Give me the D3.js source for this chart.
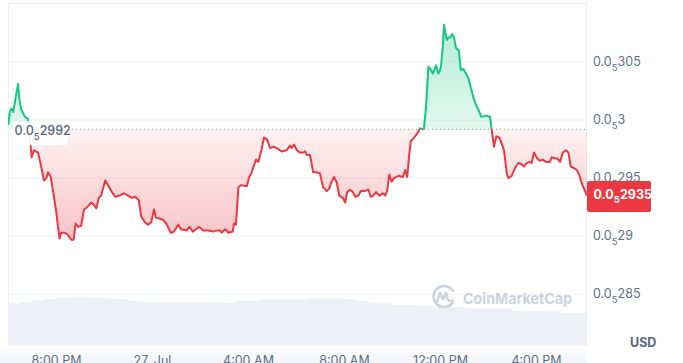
<!DOCTYPE html>
<html>
<head>
<meta charset="utf-8">
<script src="https://cdn.jsdelivr.net/npm/d3@7"></script>
<style>
  body { margin: 0; background: #fff; }
  svg { display: block; font-family: Inter, "Noto Sans", sans-serif; }
</style>
</head>
<body>
<div id="chart"></div>
<script>
// minutes after 26 Jul 18:00
var priceMinutes = [1, 4, 8, 13, 17, 21, 25, 29, 33, 38, 42, 46, 50, 55, 59, 65, 75, 83, 90, 96, 100, 107, 113, 121, 125, 129, 133, 142, 150, 158, 164, 169, 175, 183, 190, 198, 208, 215, 221, 227, 233, 243, 250, 260, 268, 279, 290, 300, 310, 318, 327, 333, 342, 350, 358, 365, 370, 380, 388, 397, 407, 415, 426, 432, 447, 453, 462, 470, 478, 488, 501, 513, 522, 530, 534, 543, 551, 562, 565, 570, 576, 582, 597, 603, 609, 620, 626, 632, 640, 648, 655, 665, 676, 684, 697, 705, 709, 715, 722, 730, 738, 743, 747, 755, 763, 772, 780, 788, 797, 803, 809, 815, 822, 828, 837, 843, 848, 855, 862, 868, 876, 882, 893, 901, 907, 913, 920, 928, 937, 943, 948, 953, 959, 965, 976, 987, 993, 998, 1003, 1007, 1013, 1020, 1026, 1030, 1037, 1040, 1045, 1051, 1058, 1062, 1070, 1076, 1082, 1087, 1090, 1097, 1101, 1105, 1111, 1115, 1120, 1127, 1132, 1138, 1145, 1151, 1157, 1163, 1170, 1176, 1183, 1188, 1195, 1201, 1205, 1209, 1215, 1221, 1228, 1234, 1240, 1247, 1251, 1259, 1268, 1276, 1284, 1290, 1297, 1305, 1309, 1315, 1323, 1330, 1337, 1345, 1355, 1359, 1368, 1373, 1380, 1387, 1395, 1401, 1407, 1413, 1422, 1428, 1434, 1440, 1445, 1447];

// price in units of 1e-8 USD (299.2 = 0.0₅2992)
var prices = [299.6, 300.6, 301.0, 300.7, 301.5, 302.3, 303.1, 301.7, 300.9, 300.6, 300.3, 300.2, 300.1, 298.5, 296.8, 297.4, 297.2, 296.0, 294.8, 295.0, 295.5, 295.1, 293.8, 292.0, 290.8, 289.8, 290.3, 290.3, 290.1, 289.7, 289.7, 291.1, 290.8, 290.9, 292.3, 292.5, 292.9, 292.7, 292.4, 293.3, 293.5, 294.8, 294.4, 293.8, 293.4, 293.5, 293.7, 293.5, 293.3, 293.4, 293.1, 291.7, 291.2, 291.0, 291.2, 292.3, 291.6, 291.5, 291.4, 291.0, 290.3, 290.4, 291.0, 290.6, 290.5, 290.8, 290.4, 290.6, 290.8, 290.5, 290.5, 290.4, 290.5, 290.5, 290.3, 290.6, 290.3, 290.4, 291.1, 291.0, 294.2, 294.4, 294.3, 295.1, 295.5, 296.6, 296.4, 297.2, 298.5, 298.3, 297.6, 297.7, 297.5, 297.3, 297.4, 297.8, 297.6, 297.9, 297.4, 297.2, 297.2, 297.3, 297.0, 297.0, 295.5, 295.5, 295.4, 294.2, 293.9, 294.1, 294.7, 295.1, 294.6, 293.5, 293.3, 292.9, 293.8, 294.0, 293.8, 293.4, 293.5, 293.9, 293.9, 294.0, 293.4, 293.5, 293.8, 293.5, 293.7, 293.5, 293.9, 295.3, 294.7, 295.0, 295.2, 295.1, 295.7, 295.1, 297.0, 298.2, 298.4, 298.7, 299.0, 299.3, 299.2, 299.3, 301.1, 304.6, 304.3, 304.0, 304.7, 304.0, 304.5, 306.3, 308.2, 306.9, 307.1, 307.1, 307.4, 307.1, 306.2, 306.0, 304.3, 304.4, 304.0, 303.6, 302.8, 302.0, 301.3, 300.9, 300.3, 300.3, 300.4, 300.3, 300.3, 299.2, 297.7, 298.6, 298.5, 298.0, 297.4, 295.4, 295.0, 295.2, 295.9, 296.3, 296.2, 296.0, 296.3, 296.4, 296.3, 297.2, 296.7, 296.5, 296.6, 296.4, 296.4, 296.8, 296.7, 296.7, 296.4, 297.2, 297.4, 297.2, 296.0, 295.9, 295.7, 295.3, 294.6, 294.1, 293.7, 293.5];

// 30 minute volume buckets, relative units
var volumes = [42.2, 43.8, 45.5, 46.5, 47.5, 48.2, 48.2, 47.8, 47.0, 46.5, 44.8, 43.8, 43.2, 43.2, 43.2, 43.2, 43.2, 43.8, 43.0, 44.8, 44.8, 46.2, 46.2, 46.2, 46.2, 47.2, 47.2, 47.2, 46.5, 44.8, 43.0, 42.2, 40.5, 40.5, 39.5, 39.5, 38.8, 38.8, 37.2, 37.2, 37.2, 37.2, 34.8, 34.8, 34.8, 34.8, 32.8, 32.8, 32.8];

var priceTicks = [285, 290, 295, 300, 305];
var openPrice = 299.2;
var lastPrice = 293.5;

var width = 683, height = 363;
var plot = { left: 8, right: 587, top: 3, bottom: 345.7 };
var green = "#16c784", red = "#ea3943", axisGrey = "#616e85";

var start = new Date(2024, 6, 26, 18, 0);
function minToDate(m) {
  return new Date(start.getTime() + m * 60000);
}

var data = priceMinutes.map(function(m, i) {
  return { date: minToDate(m), value: prices[i] };
});

var x = d3.scaleTime()
  .domain([start, minToDate(1447.5)])
  .range([plot.left, plot.right]);

var y = d3.scaleLinear()
  .domain([285, 305])
  .range([294.3, 62]);

var yVol = d3.scaleLinear()
  .domain([0, 100])
  .range([plot.bottom, plot.bottom - 100]);

var svg = d3.select("#chart").append("svg")
  .attr("width", width)
  .attr("height", height);

var defs = svg.append("defs");

var baseY = y(openPrice);

defs.append("clipPath").attr("id", "clipUp")
  .append("rect")
  .attr("x", plot.left).attr("y", plot.top)
  .attr("width", plot.right - plot.left).attr("height", baseY - plot.top);

defs.append("clipPath").attr("id", "clipDown")
  .append("rect")
  .attr("x", plot.left).attr("y", baseY)
  .attr("width", plot.right - plot.left).attr("height", plot.bottom - baseY);

defs.append("clipPath").attr("id", "clipPlot")
  .append("rect")
  .attr("x", plot.left).attr("y", plot.top)
  .attr("width", plot.right - plot.left).attr("height", plot.bottom - plot.top);

var gUp = defs.append("linearGradient").attr("id", "gradUp")
  .attr("gradientUnits", "userSpaceOnUse")
  .attr("x1", 0).attr("x2", 0)
  .attr("y1", y(308.2)).attr("y2", baseY);
gUp.append("stop").attr("offset", 0).attr("stop-color", green).attr("stop-opacity", 0.32);
gUp.append("stop").attr("offset", 1).attr("stop-color", green).attr("stop-opacity", 0.12);

var gDown = defs.append("linearGradient").attr("id", "gradDown")
  .attr("gradientUnits", "userSpaceOnUse")
  .attr("x1", 0).attr("x2", 0)
  .attr("y1", baseY).attr("y2", y(289.7));
gDown.append("stop").attr("offset", 0).attr("stop-color", red).attr("stop-opacity", 0.07);
gDown.append("stop").attr("offset", 1).attr("stop-color", red).attr("stop-opacity", 0.3);

var gBottom = defs.append("linearGradient").attr("id", "gradBottom")
  .attr("x1", 0).attr("x2", 0).attr("y1", 0).attr("y2", 1);
gBottom.append("stop").attr("offset", 0).attr("stop-color", "#ffffff");
gBottom.append("stop").attr("offset", 1).attr("stop-color", "#f3f5fb");

svg.append("rect")
  .attr("x", 0).attr("y", plot.bottom)
  .attr("width", plot.right).attr("height", height - plot.bottom)
  .attr("fill", "url(#gradBottom)");

// grid
svg.append("g")
  .selectAll("line")
  .data(priceTicks)
  .enter().append("line")
  .attr("x1", plot.left).attr("x2", plot.right)
  .attr("y1", function(d) { return y(d); })
  .attr("y2", function(d) { return y(d); })
  .attr("stroke", "#eff2f5")
  .attr("stroke-width", 1);

// volume
svg.append("g")
  .attr("clip-path", "url(#clipPlot)")
  .selectAll("rect")
  .data(volumes)
  .enter().append("rect")
  .attr("x", function(d, i) { return x(minToDate(i * 30)); })
  .attr("width", function(d, i) { return x(minToDate((i + 1) * 30)) - x(minToDate(i * 30)) + 0.5; })
  .attr("y", function(d) { return yVol(d); })
  .attr("height", function(d) { return plot.bottom - yVol(d); })
  .attr("fill", "#edf0f4");

// borders
svg.append("path")
  .attr("d", "M" + (plot.left + 0.5) + "," + plot.bottom + "V" + (plot.top + 0.5) + "H" + (plot.right - 0.5) + "V" + plot.bottom)
  .attr("fill", "none")
  .attr("stroke", "#eceff3")
  .attr("stroke-width", 1);

// watermark
var wm = svg.append("g")
  .attr("transform", "translate(443.5,296.5)")
  .attr("fill", "none")
  .attr("stroke", "#cdd3de")
  .attr("stroke-width", 2.6)
  .attr("stroke-linecap", "round")
  .attr("stroke-linejoin", "round");
wm.append("path")
  .attr("d", "M9.5,5.5 A10.5,10.5 0 1 1 9.5,-5.5");
wm.append("path")
  .attr("d", "M-6.5,5 L-3.5,-3.5 L-0.5,3 L2.5,-3.5 L4,2.5 Q5.5,5.5 9,4");
svg.append("text")
  .attr("x", 463).attr("y", 303.5)
  .attr("fill", "#cdd3de")
  .attr("font-size", 15)
  .attr("font-weight", 700)
  .attr("textLength", 109)
  .attr("lengthAdjust", "spacingAndGlyphs")
  .text("CoinMarketCap");

// areas and line
var area = d3.area()
  .x(function(d) { return x(d.date); })
  .y0(baseY)
  .y1(function(d) { return y(d.value); });

var line = d3.line()
  .x(function(d) { return x(d.date); })
  .y(function(d) { return y(d.value); });

svg.append("path").datum(data)
  .attr("clip-path", "url(#clipUp)")
  .attr("d", area)
  .attr("fill", "url(#gradUp)");

// red area runs to the right edge
var redData = data.concat([{ date: minToDate(1447.5), value: lastPrice }]);
svg.append("path").datum(redData)
  .attr("clip-path", "url(#clipDown)")
  .attr("d", area)
  .attr("fill", "url(#gradDown)");

svg.append("line")
  .attr("x1", plot.left + 60).attr("x2", plot.right)
  .attr("y1", baseY).attr("y2", baseY)
  .attr("stroke", "#8f97a6")
  .attr("stroke-width", 1)
  .attr("stroke-dasharray", "1,3");

svg.append("path").datum(data)
  .attr("clip-path", "url(#clipUp)")
  .attr("d", line)
  .attr("fill", "none")
  .attr("stroke", green)
  .attr("stroke-width", 2)
  .attr("stroke-linejoin", "round");

svg.append("path").datum(data)
  .attr("clip-path", "url(#clipDown)")
  .attr("d", line)
  .attr("fill", "none")
  .attr("stroke", red)
  .attr("stroke-width", 2)
  .attr("stroke-linejoin", "round");

// 0.0₅ style label
function subText(sel, v, size, subSize) {
  var digits = String(Math.round(v * 10)).replace(/0+$/, "");
  sel.append("tspan").text("0.0");
  sel.append("tspan").attr("font-size", subSize).attr("dy", 4.5).text("5");
  sel.append("tspan").attr("font-size", size).attr("dy", -4.5).text(digits);
}

// open price tag
svg.append("rect")
  .attr("x", 13).attr("y", baseY - 8)
  .attr("width", 55).attr("height", 24)
  .attr("rx", 4)
  .attr("fill", "rgba(255,255,255,0.92)");
svg.append("text")
  .attr("x", 14.5).attr("y", baseY + 6)
  .attr("fill", "#58667e")
  .attr("font-size", 12.5)
  .attr("font-weight", 500)
  .call(subText, openPrice, 12.5, 9.5);

// right axis
svg.append("g")
  .selectAll("text")
  .data(priceTicks)
  .enter().append("text")
  .attr("x", 593)
  .attr("y", function(d) { return y(d) + 4; })
  .attr("fill", axisGrey)
  .attr("font-size", 12.5)
  .each(function(d) { d3.select(this).call(subText, d, 12.5, 9.5); });

// last price tag
var lastY = y(lastPrice);
svg.append("rect")
  .attr("x", plot.right).attr("y", lastY - 14.5)
  .attr("width", 64).attr("height", 31)
  .attr("rx", 2)
  .attr("fill", red);
svg.append("text")
  .attr("x", 593.5).attr("y", lastY + 3)
  .attr("fill", "#fff")
  .attr("font-size", 12.5)
  .attr("font-weight", 700)
  .call(subText, lastPrice, 12.5, 9.5);

svg.append("text")
  .attr("x", 630).attr("y", 347)
  .attr("fill", "#58667e")
  .attr("font-size", 12.5)
  .attr("font-weight", 700)
  .text("USD");

// x axis
var fmtDay = d3.timeFormat("%-d. %b");
var fmtHour = d3.timeFormat("%-I:%M %p");
var xAxis = d3.axisBottom(x)
  .ticks(d3.timeHour.every(4))
  .tickSize(0)
  .tickFormat(function(d) {
    return d.getHours() === 0 ? fmtDay(d) : fmtHour(d);
  });

var gx = svg.append("g")
  .attr("transform", "translate(0," + 352 + ")")
  .call(xAxis);
gx.select(".domain").remove();
gx.selectAll("text")
  .attr("fill", axisGrey)
  .attr("font-size", 12.5)
  .attr("font-family", "Inter, sans-serif")
  .attr("dy", "0.8em");
</script>
</body>
</html>
